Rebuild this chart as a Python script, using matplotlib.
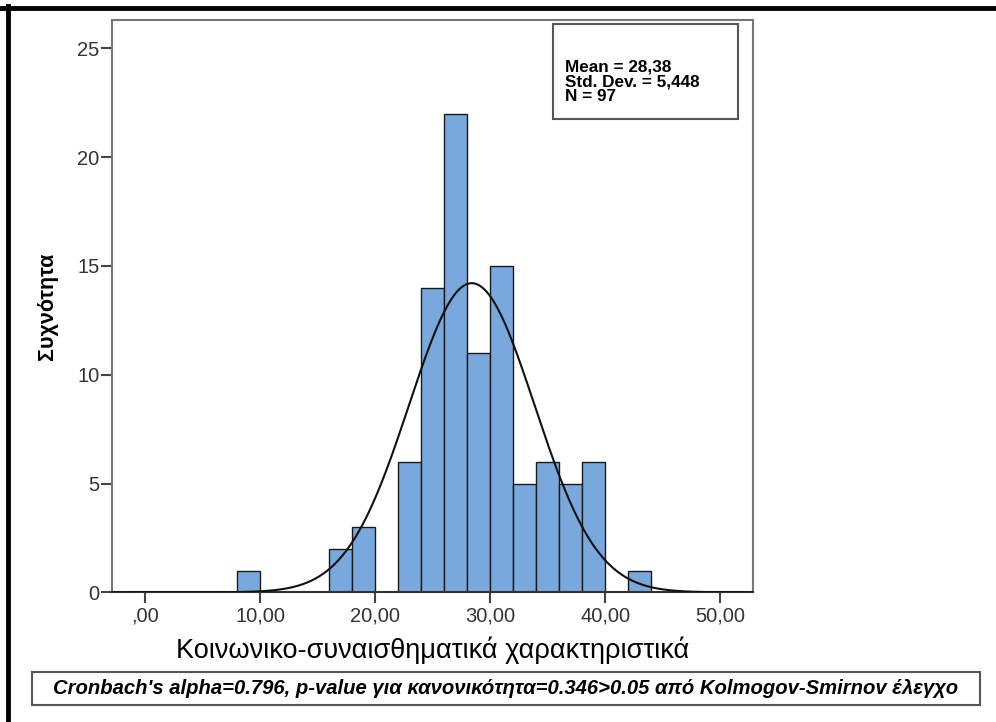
import numpy as np
import matplotlib
matplotlib.use("Agg")
import matplotlib.pyplot as plt
from matplotlib.patches import Rectangle
from matplotlib.lines import Line2D

plt.rcParams['font.family'] = ['Liberation Sans', 'DejaVu Sans']

# histogram data (bins of width 2)
bin_left = [8, 16, 18, 22, 24, 26, 28, 30, 32, 34, 36, 38, 42]
counts = [1, 2, 3, 6, 14, 22, 11, 15, 5, 6, 5, 6, 1]
bin_width = 2

# summary statistics
mean = 28.38
std = 5.448
n = 97

x_ticks = [0, 10, 20, 30, 40, 50]
x_labels = [",00", "10,00", "20,00", "30,00", "40,00", "50,00"]
y_ticks = [0, 5, 10, 15, 20, 25]

fig = plt.figure(figsize=(9.96, 7.22), dpi=100)
ax = fig.add_axes([0.1124, 0.1796, 0.6433, 0.7927])

ax.bar(bin_left, counts, width=bin_width, align='edge', color='#79a8dc',
       edgecolor='#1a1a1a', linewidth=1.0, zorder=2)

# normal curve scaled to counts
xs = np.linspace(-2.9, 52.8, 400)
ys = n * bin_width / (std * np.sqrt(2 * np.pi)) * np.exp(-0.5 * ((xs - mean) / std) ** 2)
ax.plot(xs, ys, color='#111111', linewidth=1.5, zorder=3)

ax.set_xlim(-2.9, 52.8)
ax.set_ylim(0, 26.3)
ax.set_xticks(x_ticks)
ax.set_xticklabels(x_labels)
ax.set_yticks(y_ticks)
ax.tick_params(axis='x', direction='out', length=8, width=1.5, color='#444444',
               labelsize=14.5, labelcolor='#333333', pad=2)
ax.tick_params(axis='y', direction='out', length=8, width=1.5, color='#444444',
               labelsize=14.5, labelcolor='#333333', pad=1)
for side in ['left', 'right', 'top']:
    ax.spines[side].set_color('#777777')
    ax.spines[side].set_linewidth(1.5)
ax.spines['bottom'].set_color('#333333')
ax.spines['bottom'].set_linewidth(1.5)

ax.set_ylabel('Συχνότητα', fontsize=15.5, fontweight='bold', labelpad=14)
ax.set_xlabel('Κοινωνικο-συναισθηματικά χαρακτηριστικά', fontsize=19.5, labelpad=8)

# stats box
ax.add_patch(Rectangle((0.688, 0.827), 0.289, 0.166, transform=ax.transAxes,
                       facecolor='white', edgecolor='#555555', linewidth=1.5, zorder=4))
ax.text(0.707, 0.892, "Mean = 28,38\nStd. Dev. = 5,448\nN = 97", transform=ax.transAxes,
        fontsize=12.3, fontweight='bold', va='center', ha='left', linespacing=0.98, zorder=5)

# bottom note box
fig.patches.append(Rectangle((32 / 996, 1 - 705 / 722), 948 / 996, 33 / 722,
                             transform=fig.transFigure, facecolor='white',
                             edgecolor='#555555', linewidth=1.5))
fig.text(506 / 996, 1 - 688 / 722,
         "Cronbach's alpha=0.796, p-value για κανονικότητα=0.346>0.05 από Kolmogov-Smirnov έλεγχο",
         fontsize=14.6, fontweight='bold', style='italic', ha='center', va='center')

# outer border lines (top and left)
fig.lines.append(Line2D([0, 1], [1 - 7.5 / 722, 1 - 7.5 / 722], transform=fig.transFigure,
                        color='black', linewidth=3.5))
fig.lines.append(Line2D([8 / 996, 8 / 996], [0, 1 - 6 / 722], transform=fig.transFigure,
                        color='black', linewidth=3.5))

fig.savefig('out.png', dpi=100, facecolor='white')
